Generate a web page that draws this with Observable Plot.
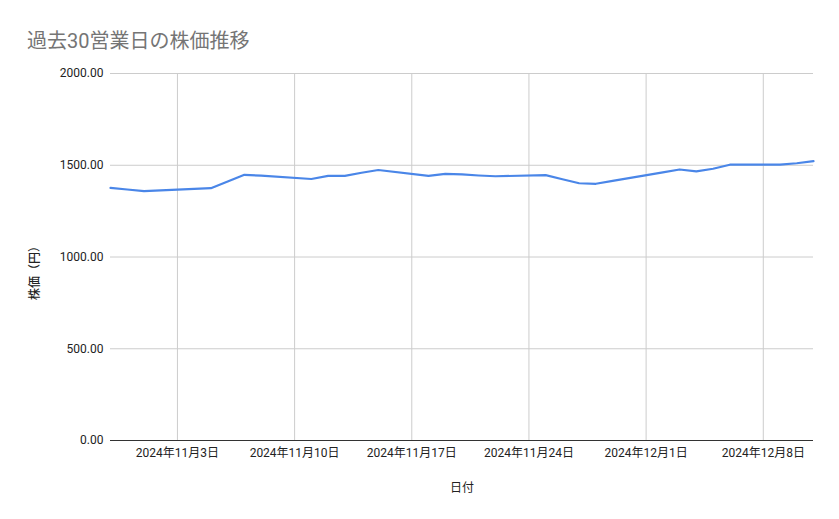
<!DOCTYPE html>
<html>
<head>
<meta charset="utf-8">
<script src="https://cdn.jsdelivr.net/npm/d3@7"></script>
<script src="https://cdn.jsdelivr.net/npm/@observablehq/plot@0.6"></script>
<style>
  html, body { margin: 0; padding: 0; background: #fff; }
  #wrap { position: relative; width: 839px; height: 519px; font-family: Roboto, "Noto Sans CJK JP", sans-serif; }
  #title { position: absolute; left: 27px; top: 25px; font-size: 20px; color: #757575; }
  #ytitle { position: absolute; left: 33px; top: 270px; transform: translate(-50%, -50%) rotate(-90deg); font-size: 12px; color: #222; white-space: nowrap; font-weight: 500; }
  #xtitle { position: absolute; left: 462px; top: 486px; transform: translate(-50%, -50%); font-size: 12px; color: #222; }
</style>
</head>
<body>
<div id="wrap">
  <div id="chart"></div>
  <div id="title">過去30営業日の株価推移</div>
  <div id="ytitle">株価（円）</div>
  <div id="xtitle">日付</div>
</div>
<script>
const dates = [
  "2024-10-30","2024-10-31","2024-11-01","2024-11-05","2024-11-06","2024-11-07","2024-11-08",
  "2024-11-11","2024-11-12","2024-11-13","2024-11-14","2024-11-15",
  "2024-11-18","2024-11-19","2024-11-20","2024-11-21","2024-11-22",
  "2024-11-25","2024-11-26","2024-11-27","2024-11-28","2024-11-29",
  "2024-12-02","2024-12-03","2024-12-04","2024-12-05","2024-12-06",
  "2024-12-09","2024-12-10","2024-12-11"
];
const prices = [
  1377, 1368, 1359, 1375, 1412, 1448, 1443,
  1425, 1442, 1442, 1459, 1474,
  1442, 1453, 1450, 1444, 1440,
  1446, 1424, 1402, 1399, 1415,
  1461, 1477, 1467, 1481, 1503,
  1503, 1511, 1522
];
const xTicks = ["2024-11-03","2024-11-10","2024-11-17","2024-11-24","2024-12-01","2024-12-08"];
const yTicks = [0, 500, 1000, 1500, 2000];

const data = dates.map((d, i) => ({date: new Date(d + "T00:00:00Z"), price: prices[i]}));
const xTickDates = xTicks.map(d => new Date(d + "T00:00:00Z"));
const fmtDate = d => `${d.getUTCFullYear()}年${d.getUTCMonth() + 1}月${d.getUTCDate()}日`;

const chart = Plot.plot({
  width: 839,
  height: 519,
  marginTop: 73,
  marginBottom: 79,
  marginLeft: 110,
  marginRight: 26,
  style: {fontFamily: 'Roboto, "Noto Sans CJK JP", sans-serif', fontSize: "12px", color: "#222", background: "#fff"},
  x: {type: "utc", domain: [new Date("2024-10-30T00:00:00Z"), new Date("2024-12-11T00:00:00Z")], label: null},
  y: {domain: [0, 2000], label: null},
  marks: [
    Plot.gridX(xTickDates, {stroke: "#ccc", strokeOpacity: 1}),
    Plot.gridY(yTicks, {stroke: "#ccc", strokeOpacity: 1}),
    Plot.axisX(xTickDates, {tickSize: 0, tickPadding: 8, tickFormat: fmtDate, fill: "#222", fontSize: 12, label: null}),
    Plot.axisY(yTicks, {tickSize: 0, tickPadding: 7, tickFormat: d => d.toFixed(2), fill: "#222", fontSize: 12, label: null}),
    Plot.ruleY([0], {stroke: "#333", strokeWidth: 1}),
    Plot.line(data, {x: "date", y: "price", stroke: "#4a86e8", strokeWidth: 2.2})
  ]
});
document.getElementById("chart").appendChild(chart);
</script>
</body>
</html>
